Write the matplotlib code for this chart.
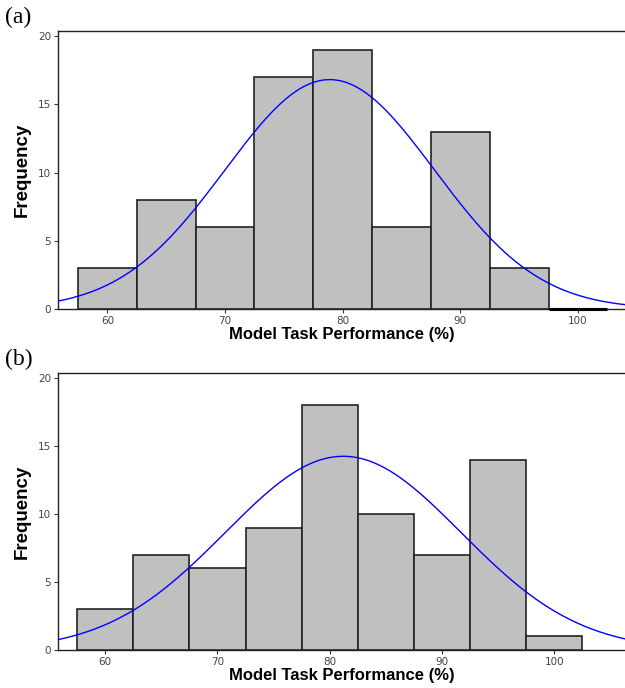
import numpy as np
import matplotlib.pyplot as plt

# bin edges shared by both histograms (width 5)
bin_left = [57.5, 62.5, 67.5, 72.5, 77.5, 82.5, 87.5, 92.5, 97.5]
bin_width = 5

counts_a = [3, 8, 6, 17, 19, 6, 13, 3, 0]
counts_b = [3, 7, 6, 9, 18, 10, 7, 14, 1]

# normal curve fitted by the stats package (mean, sd)
mean_a, sd_a = 78.9, 8.9
mean_b, sd_b = 81.2, 10.5

panels = [
    ("(a)", counts_a, mean_a, sd_a, (55.8, 104.0), [0.0928, 0.5509, 0.9072, 0.4040]),
    ("(b)", counts_b, mean_b, sd_b, (55.8, 106.3), [0.0928, 0.0552, 0.9072, 0.4026]),
]

fig = plt.figure(figsize=(6.25, 6.88), dpi=100)

for tag, counts, mu, sd, xlim, pos in panels:
    ax = fig.add_axes(pos)
    centers = np.array(bin_left) + bin_width / 2
    bars = ax.bar(centers, counts, width=bin_width, color="#c0c0c0",
                  edgecolor="#222222", linewidth=1.2, zorder=3)
    for b, c in zip(bars, counts):
        if c == 0:
            b.set_linewidth(2.2)
            b.set_edgecolor("black")
            b.set_clip_on(False)
    n = sum(counts)
    xs = np.linspace(xlim[0], xlim[1], 400)
    ys = n * bin_width / (sd * np.sqrt(2 * np.pi)) * np.exp(-0.5 * ((xs - mu) / sd) ** 2)
    ax.plot(xs, ys, color="blue", linewidth=1.0, zorder=4)

    ax.set_xlim(*xlim)
    ax.set_ylim(0, 20.37)
    ax.set_xticks([60, 70, 80, 90, 100])
    ax.set_yticks([0, 5, 10, 15, 20])
    ax.tick_params(labelsize=7.5, labelcolor="#444444", length=3, width=0.8,
                   color="#333333", pad=2)
    for s in ["left", "top", "bottom"]:
        ax.spines[s].set_color("#222222")
        ax.spines[s].set_linewidth(1.0)
    ax.spines["right"].set_visible(False)

    ax.set_ylabel("Frequency", fontsize=13.5, fontweight="bold",
                  family="Liberation Sans", labelpad=5)
    ax.set_xlabel("Model Task Performance (%)", fontsize=12, fontweight="bold",
                  family="Liberation Sans", labelpad=1)
    fig.text(0.008, pos[1] + pos[3] + 0.004, tag, fontsize=17,
             family="Liberation Serif", ha="left", va="bottom")

fig.savefig("out.png", dpi=100)
